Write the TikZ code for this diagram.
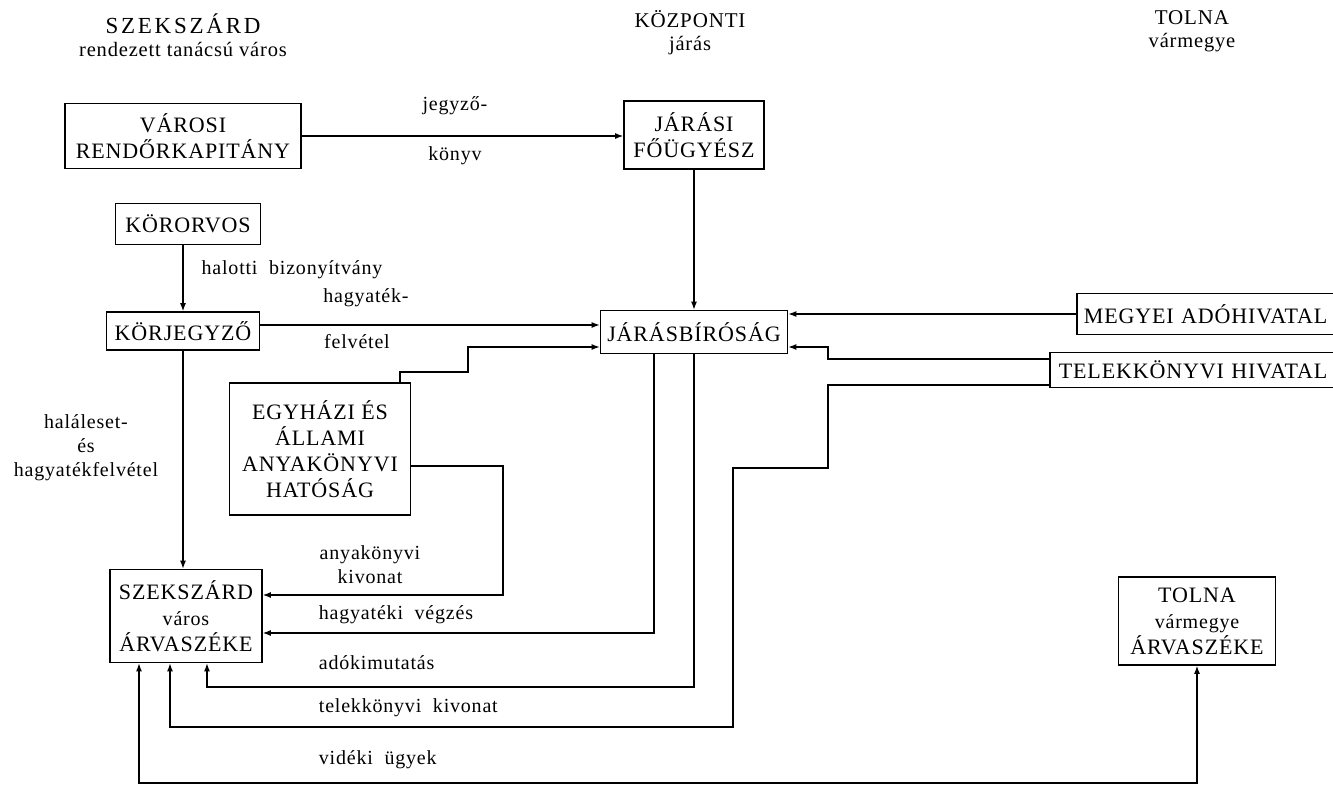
\documentclass[tikz,border=0pt]{standalone}
\usepackage{fontspec}
\setmainfont{Liberation Serif}[LetterSpace=4]
\newfontfamily\labfont{Liberation Serif}[LetterSpace=4, WordSpace=2]
\usetikzlibrary{arrows.meta,positioning,calc}

\begin{document}
\begin{tikzpicture}[x=1pt, y=-1pt, >={Latex[length=8pt,width=6pt]}, line width=1.2pt,
  box/.style={draw, line width=1.7pt, align=center, inner sep=2pt, font=\fontsize{22}{26}\selectfont},
  side/.style={draw, line width=1.7pt, anchor=west, align=left, text width=290pt, inner xsep=7pt, font=\fontsize{22}{26}\selectfont},
  lab/.style={font=\labfont\fontsize{20}{24}\selectfont, align=center},
  hdr/.style={font=\fontsize{21}{23}\selectfont, align=center}]
\useasboundingbox (0,0) rectangle (1333,788);
% headers
\node[hdr] (hszek) at (183,35) {{\fontsize{23}{23}\selectfont\addfontfeature{LetterSpace=12}SZEKSZÁRD}\\{\fontsize{20.5}{23}\selectfont rendezett tanácsú város}};
\node[hdr] (hkozp) at (690,33) {KÖZPONTI\\{\fontsize{20.5}{23}\selectfont járás}};
\node[hdr] (htolna) at (1192,31) {TOLNA\\{\fontsize{20.5}{23}\selectfont vármegye}};
% boxes
\node[box, minimum width=236, minimum height=65] (rendor) at (183,136) {VÁROSI\\RENDŐRKAPITÁNY};
\node[box, minimum width=140, minimum height=68] (fougy) at (694,135) {JÁRÁSI\\FŐÜGYÉSZ};
\node[box, minimum width=145, minimum height=41] (korvos) at (188,224) {KÖRORVOS};
\node[box, minimum width=153, minimum height=38] (korjegy) at (183,331) {KÖRJEGYZŐ};
\node[box, minimum width=187, minimum height=43] (jbir) at (694,332) {JÁRÁSBÍRÓSÁG};
\node[box, minimum width=181, minimum height=132] (egyhaz) at (320,449) {EGYHÁZI ÉS\\ÁLLAMI\\ANYAKÖNYVI\\HATÓSÁG};
\node[box, minimum width=152, minimum height=93] (szarva) at (186,616) {SZEKSZÁRD\\{\fontsize{20}{26}\selectfont város}\\ÁRVASZÉKE};
\node[box, minimum width=157, minimum height=88] (tarva) at (1197,621) {TOLNA\\{\fontsize{20}{26}\selectfont vármegye}\\ÁRVASZÉKE};
\node[side, minimum height=41] (adohiv) at (1076,314) {MEGYEI ADÓHIVATAL};
\node[side, minimum height=35, inner xsep=9pt] (telek) at (1049,370) {TELEKKÖNYVI HIVATAL};
% connectors
\draw[->] (rendor.east) -- (rendor.east -| fougy.west);
\node[lab] (jk1) at (455,106) {jegyző-};
\node[lab] (jk2) at (455,156) {könyv};
\draw[->] (fougy.south) -- (jbir.north);
\draw[->] (korvos.south -| korjegy.north) -- (korjegy.north);
\node[lab] (hal) at (292,270) {halotti bizonyítvány};
\draw[->] (korjegy.east |- 0,325) -- (jbir.west |- 0,325);
\node[lab] (hf1) at (366,298) {hagyaték-};
\node[lab] (hf2) at (357,342) {felvétel};
\draw[->] (korjegy.south) -- (korjegy.south |- szarva.north);
\node[lab] (hes) at (86,448) {haláleset-\\és\\hagyatékfelvétel};
\draw[->] ([xshift=80pt]egyhaz.north) |- (468,372) |- (jbir.west |- 0,347);
\draw[->] (egyhaz.east |- 0,466) -| (503,595) -- (szarva.east |- 0,595);
\node[lab] (ak) at (370,565) {anyakönyvi\\kivonat};
\draw[->] (jbir.south -| 654,0) |- (szarva.east |- 0,633);
\node[lab, anchor=west] (hv) at (315,615) {hagyatéki végzés};
\draw[->] (jbir.south) |- (207,687) -- (szarva.south -| 207,0);
\node[lab, anchor=west] (adok) at (315,663) {adókimutatás};
\draw[->] (adohiv.west) -- (adohiv.west -| jbir.east);
\draw[->] (telek.west |- 0,359) -| (828,347) -- (jbir.east |- 0,347);
\draw[->] (telek.west |- 0,385) -| (828,468) -| (733,727) -| (szarva.south -| 170,0);
\node[lab, anchor=west] (tk) at (315,708) {telekkönyvi kivonat};
\draw[<->] (tarva.south) |- (139,783) -- (szarva.south -| 139,0);
\node[lab, anchor=west] (vid) at (315,760) {vidéki ügyek};
\end{tikzpicture}
\end{document}
